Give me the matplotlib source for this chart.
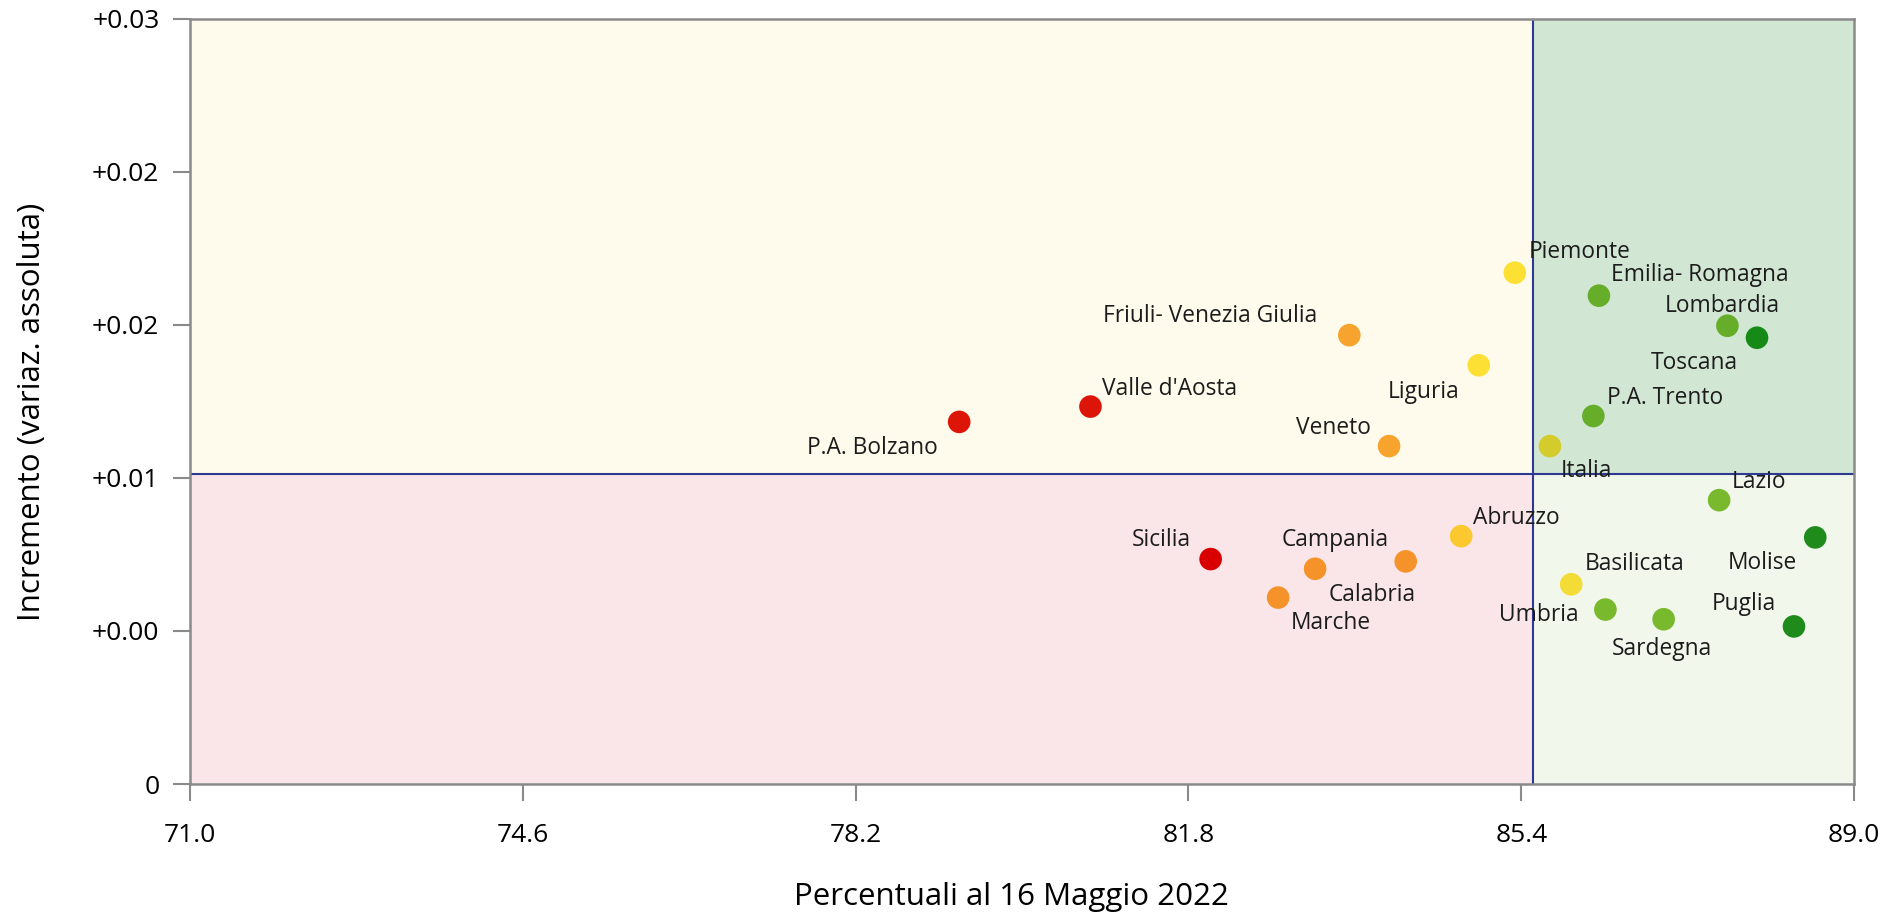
import numpy as np
import matplotlib
matplotlib.use('Agg')
import matplotlib.pyplot as plt
from matplotlib.patches import Rectangle

plt.rcParams['font.family'] = ['Open Sans', 'DejaVu Sans']

# dati
regioni = ['P.A. Bolzano', "Valle d'Aosta", 'Friuli- Venezia Giulia', 'Veneto',
           'Liguria', 'Piemonte', 'Italia', 'Emilia- Romagna', 'P.A. Trento',
           'Lombardia', 'Toscana', 'Lazio', 'Molise', 'Puglia', 'Sardegna',
           'Umbria', 'Basilicata', 'Abruzzo', 'Calabria', 'Campania',
           'Marche', 'Sicilia']
perc = [79.32, 80.74, 83.54, 83.97, 84.94, 85.33, 85.71, 86.24, 86.18,
        87.63, 87.95, 87.54, 88.58, 88.35, 86.94, 86.31, 85.94, 84.75,
        84.15, 83.17, 82.77, 82.04]
incr = [0.0142, 0.0148, 0.0176, 0.01325, 0.01642, 0.02005, 0.01325, 0.01915,
        0.01443, 0.01797, 0.0175, 0.01113, 0.00967, 0.00618, 0.00646,
        0.00684, 0.00783, 0.00972, 0.00873, 0.00844, 0.00731, 0.00882]
colori = ['#dd1508', '#dd1508', '#f7a42e', '#f7a42e', '#fde034', '#fde034',
          '#d4cc2c', '#66ad29', '#66ad29', '#66ad29', '#168a16', '#78b92e',
          '#1e8b1b', '#1e8b1b', '#78b92e', '#78b92e', '#f2dc35', '#fbc82f',
          '#f5922a', '#f5922a', '#f5922a', '#d80000']

X_Ticks = [71.0, 74.6, 78.2, 81.8, 85.4, 89.0]
Y_Ticks = [0.0, 0.006, 0.012, 0.018, 0.024, 0.030]
Y_Tick_Labels = ['0', '+0.00', '+0.01', '+0.02', '+0.02', '+0.03']
Rif_X, Rif_Y = 85.53, 0.01217

# posizione etichette: (dx, dy in pixel, allineamento)
Etichette_Pos = {
    'P.A. Bolzano': (-21, -26, 'right'),
    "Valle d'Aosta": (12, 18, 'left'),
    'Friuli- Venezia Giulia': (-32, 19, 'right'),
    'Veneto': (-18, 18, 'right'),
    'Liguria': (-19, -27, 'right'),
    'Piemonte': (14, 21, 'left'),
    'Italia': (11, -25, 'left'),
    'Emilia- Romagna': (12, 21, 'left'),
    'P.A. Trento': (14, 18, 'left'),
    'Lombardia': (52, 20, 'right'),
    'Toscana': (-19, -25, 'right'),
    'Lazio': (13, 18, 'left'),
    'Molise': (-18, -26, 'right'),
    'Puglia': (-18, 22, 'right'),
    'Sardegna': (-52, -30, 'left'),
    'Umbria': (-27, -5, 'right'),
    'Basilicata': (14, 20, 'left'),
    'Abruzzo': (12, 18, 'left'),
    'Calabria': (-77, -34, 'left'),
    'Campania': (-33, 29, 'left'),
    'Marche': (13, -25, 'left'),
    'Sicilia': (-20, 19, 'right'),
}

fig = plt.figure(figsize=(18.85, 9.16), dpi=100)
ax = fig.add_axes([0.1008, 0.1441, 0.8828, 0.8352])
x0, x1 = X_Ticks[0], X_Ticks[-1]
y0, y1 = Y_Ticks[0], Y_Ticks[-1]
ax.set_xlim(x0, x1)
ax.set_ylim(y0, y1)

# quadranti
ax.add_patch(Rectangle((x0, Rif_Y), Rif_X - x0, y1 - Rif_Y, color='#fefbec', zorder=0, lw=0))
ax.add_patch(Rectangle((x0, y0), Rif_X - x0, Rif_Y - y0, color='#fae6e8', zorder=0, lw=0))
ax.add_patch(Rectangle((Rif_X, Rif_Y), x1 - Rif_X, y1 - Rif_Y, color='#d2e7d3', zorder=0, lw=0))
ax.add_patch(Rectangle((Rif_X, y0), x1 - Rif_X, Rif_Y - y0, color='#f1f7ea', zorder=0, lw=0))
ax.axvline(Rif_X, color='#2e3a92', lw=1.5, zorder=1)
ax.axhline(Rif_Y, color='#2e3a92', lw=1.5, zorder=1)

ax.scatter(perc, incr, s=265, c=colori, zorder=3, linewidths=0)
for nm, px, py in zip(regioni, perc, incr):
    dx, dy, ha = Etichette_Pos[nm]
    ax.annotate(nm, (px, py), xytext=(dx, dy), textcoords='offset pixels',
                ha=ha, va='center', fontsize=16.4, color='#1c1c1c', zorder=4)

ax.set_xticks(X_Ticks)
ax.set_xticklabels(['%.1f' % v for v in X_Ticks])
ax.set_yticks(Y_Ticks)
ax.set_yticklabels(Y_Tick_Labels)
for sp in ax.spines.values():
    sp.set_color('#8a8a8a')
    sp.set_linewidth(1.8)
ax.tick_params(axis='both', length=12, width=1.5, color='#8a8a8a', labelsize=19)
ax.tick_params(axis='x', pad=16)
ax.tick_params(axis='y', pad=10)
ax.set_xlabel('Percentuali al 16 Maggio 2022', fontsize=22.5, va='center')
ax.set_ylabel('Incremento (variaz. assoluta)', fontsize=22.5, va='center')
ax.xaxis.set_label_coords(0.4934, -0.1477)
ax.yaxis.set_label_coords(-0.095, 0.487)

fig.savefig('out.png', dpi=100)
